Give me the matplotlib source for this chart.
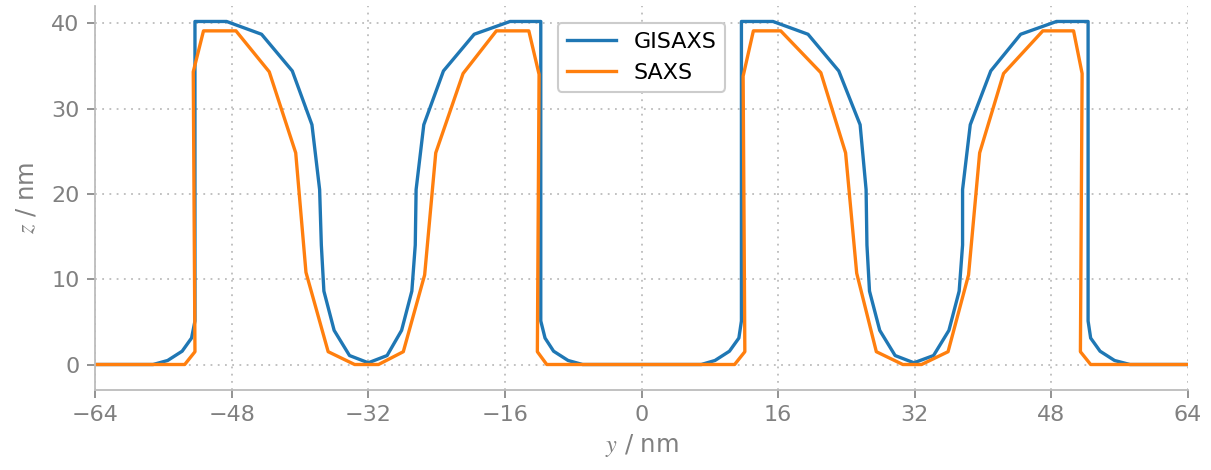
import numpy as np
import matplotlib.pyplot as plt

plt.rcParams['mathtext.fontset'] = 'stix'

# profile, y in nm (lateral), z in nm (height)
gisaxs_y = [-64, -57.2, -55.5, -53.8, -52.7, -52.3, -52.3, -48.6, -44.5, -40.9,
            -38.6, -37.7, -37.5, -37.2, -36.0, -34.2, -32.0, -29.8, -28.1, -26.9,
            -26.5, -26.4, -25.5, -23.2, -19.6, -15.4, -11.8, -11.8, -11.3, -10.3,
            -8.6, -6.9,
            7.0, 8.6, 10.3, 11.4, 11.7, 11.7, 15.4, 19.5, 23.1, 25.6,
            26.3, 26.4, 26.7, 27.9, 29.7, 31.9, 34.2, 36.0, 37.2, 37.6,
            37.6, 38.5, 40.9, 44.4, 48.6, 52.3, 52.3, 52.6, 53.7, 55.4,
            57.2, 64]
gisaxs_z = [0, 0, 0.47, 1.56, 3.1, 5.1, 40.2, 40.2, 38.7, 34.4,
            28.1, 20.5, 14.0, 8.6, 4.0, 1.05, 0.2, 1.05, 4.0, 8.6,
            14.0, 20.5, 28.1, 34.4, 38.7, 40.2, 40.2, 5.1, 3.1, 1.56,
            0.47, 0,
            0, 0.47, 1.56, 3.1, 5.1, 40.2, 40.2, 38.7, 34.4, 28.1,
            20.5, 14.0, 8.6, 4.0, 1.05, 0.2, 1.05, 4.0, 8.6, 14.0,
            20.5, 28.1, 34.4, 38.7, 40.2, 40.2, 5.1, 3.1, 1.56, 0.47,
            0, 0]

saxs_y = [-64, -53.5, -52.3, -52.5, -51.3, -47.5, -43.6, -40.5, -39.3, -36.7,
          -33.6, -30.8, -27.9, -25.4, -24.1, -20.9, -17.0, -13.2, -12.0, -12.2,
          -11.1,
          10.9, 12.1, 11.9, 13.1, 16.3, 21.0, 23.9, 25.2, 27.5,
          30.6, 32.8, 35.9, 38.3, 39.6, 42.4, 47.0, 50.6, 51.6, 51.4,
          52.6, 64]
saxs_z = [0, 0, 1.5, 34.3, 39.1, 39.1, 34.3, 24.8, 10.8, 1.5,
          0, 0, 1.5, 10.5, 24.8, 34.1, 39.1, 39.1, 34.0, 1.5,
          0,
          0, 1.5, 33.8, 39.1, 39.1, 34.2, 24.8, 10.7, 1.5,
          0, 0, 1.5, 10.5, 24.8, 34.1, 39.1, 39.1, 34.1, 1.5,
          0, 0]

grey = '#808080'
light = '#bcbcbc'

fig = plt.figure(figsize=(12.11, 4.70), dpi=100)
ax = fig.add_axes([0.0785, 0.170, 0.9025, 0.817])

ax.plot(gisaxs_y, gisaxs_z, color='#1f77b4', lw=2.4, label='GISAXS')
ax.plot(saxs_y, saxs_z, color='#ff7f0e', lw=2.4, label='SAXS')

ax.set_xlim(-64, 64)
ax.set_ylim(-3, 42)
ax.set_xticks(np.arange(-64, 65, 16))
ax.set_yticks([0, 10, 20, 30, 40])
ax.grid(True, ls=(0, (1, 3)), color=light, lw=1.3)

for s in ['top', 'right']:
    ax.spines[s].set_visible(False)
for s in ['left', 'bottom']:
    ax.spines[s].set_color(light)
    ax.spines[s].set_linewidth(1.3)

ax.tick_params(colors=grey, labelsize=16, length=6, width=1.2, direction='out', pad=5)

ax.set_xlabel(r'$y$ / nm', color=grey, fontsize=17.5, labelpad=5)
ax.set_ylabel(r'$z$ / nm', color=grey, fontsize=17.5, labelpad=9)

leg = ax.legend(loc='upper center', fontsize=16, framealpha=1, handlelength=2.2,
                edgecolor='#cccccc', fancybox=True, bbox_to_anchor=(0.5, 0.985))
leg.get_frame().set_linewidth(1.5)

fig.savefig('out.png', dpi=100)
